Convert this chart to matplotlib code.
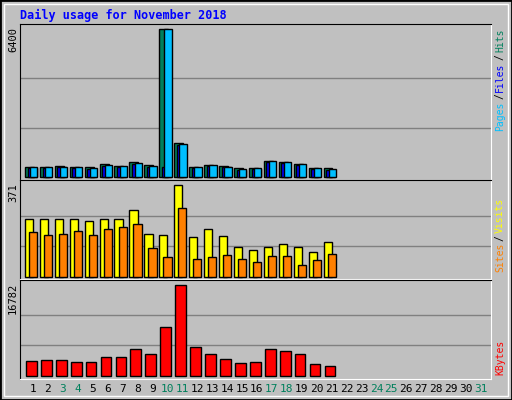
import numpy as np
from matplotlib import pyplot as plt
from matplotlib.patches import Rectangle

days = list(range(1, 32))
weekend = [3, 4, 10, 11, 17, 18, 24, 25, 31]
n_data = 21

hits = [405, 405, 463, 405, 405, 550, 463, 637, 507, 6400, 1448, 405, 507, 463, 362, 362, 666, 622, 536, 362, 362]
files = [380, 380, 400, 380, 340, 480, 440, 560, 440, 434, 1380, 380, 480, 400, 300, 340, 640, 600, 500, 340, 300]
pages = [405, 405, 405, 405, 362, 507, 463, 579, 463, 6400, 1405, 405, 507, 405, 318, 362, 666, 622, 536, 362, 318]
visits = [234, 234, 234, 234, 226, 234, 234, 271, 174, 170, 371, 162, 194, 166, 122, 110, 122, 134, 122, 98, 142]
sites = [182, 170, 174, 186, 170, 194, 202, 214, 118, 78, 279, 70, 78, 86, 70, 58, 82, 82, 46, 66, 90]
kbytes = [2634, 2818, 2818, 2450, 2450, 3369, 3369, 5022, 4104, 8943, 16782, 5390, 4104, 3001, 2266, 2450, 5022, 4655, 4104, 2083, 1715]

W, H = 512, 400
fig = plt.figure(figsize=(W / 100, H / 100), dpi=100, facecolor='#C0C0C0')
mono = 'DejaVu Sans Mono'

# frame
fig.patches.append(Rectangle((0, 0), 1, 1, transform=fig.transFigure, fill=False, ec='black', lw=2))
fig.patches.append(Rectangle((4 / W, 4 / H), 1 - 8 / W, 1 - 8 / H, transform=fig.transFigure,
                             fill=False, ec='white', lw=1))

x = np.arange(1, n_data + 1)


def make_ax(top_px, bot_px, ymax, base_px):
    ax = fig.add_axes([20 / W, 1 - bot_px / H, 471 / W, (bot_px - top_px) / H])
    ax.set_facecolor('#C0C0C0')
    k = (base_px - (top_px + 5)) / ymax
    ax.set_ylim(-(bot_px - base_px) / k, (base_px - top_px) / k)
    ax.set_xlim(0.13, 31.68)
    for g in (ymax / 3, 2 * ymax / 3):
        ax.axhline(g, color='#808080', lw=1, zorder=0)
    ax.set_xticks([])
    ax.set_yticks([])
    for s in ax.spines.values():
        s.set_color('black')
    ax.spines['right'].set_color('white')
    ax.spines['bottom'].set_color('white')
    fig.text(13 / W, 1 - (top_px + 3) / H, str(ymax), rotation=90,
             ha='center', va='top', fontsize=7.5, family=mono)
    return ax


bar = dict(edgecolor='black', linewidth=1, align='edge')

ax1 = make_ax(24.3, 180, 6400, 176.7)
ax1.bar(x - 0.54, hits, width=0.6, color='#00805C', **bar)
ax1.bar(x - 0.36, files, width=0.6, color='#0000FF', **bar)
ax1.bar(x - 0.2, pages, width=0.5, color='#00BFFF', **bar)

ax2 = make_ax(180, 279.3, 371, 276.7)
ax2.bar(x - 0.54, visits, width=0.55, color='#FFFF00', **bar)
ax2.bar(x - 0.27, sites, width=0.55, color='#FF8000', **bar)

ax3 = make_ax(280, 378.7, 16782, 375.7)
ax3.bar(x - 0.47, kbytes, width=0.72, color='#FF0000', **bar)

for d in days:
    fig.text((33 + 14.93 * (d - 1)) / W, 1 - 389 / H, str(d), ha='center', va='center',
             fontsize=8, family=mono, color='#00805C' if d in weekend else 'black')

fig.text(20 / W, 1 - 15 / H, 'Daily usage for November 2018', color='#0000FF', fontsize=8.5,
         fontweight='bold', family=mono, va='center')


def side_label(parts, top_px):
    y = top_px
    for txt, col in parts:
        fig.text(500 / W, 1 - y / H, txt, rotation=90, color=col, ha='center', va='top',
                 fontsize=7, family=mono)
        y += 5.85 * len(txt) + 2


side_label([('Hits', '#00805C'), ('/', 'black'), ('Files', '#0000FF'), ('/', 'black'),
            ('Pages', '#00BFFF')], 29)
side_label([('Visits', '#FFFF00'), ('/', 'black'), ('Sites', '#FF8000')], 198)
side_label([('KBytes', '#FF0000')], 340)

fig.savefig('out.png', dpi=100, facecolor=fig.get_facecolor())
